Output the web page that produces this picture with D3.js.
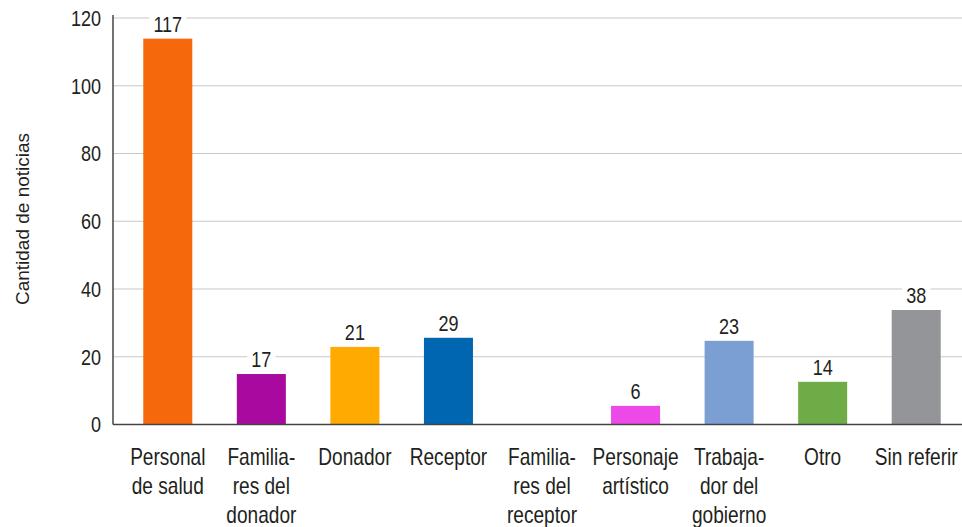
<!DOCTYPE html>
<html lang="es">
<head>
<meta charset="UTF-8">
<title>Cantidad de noticias</title>
<script src="https://d3js.org/d3.v7.min.js"></script>
<style>
  body { margin: 0; background: #fff; }
  svg { display: block; }
  .cond { font-family: "Liberation Sans", Arial, sans-serif; font-size: 22px; fill: #231f20; }
  .cat { font-size: 23px; }
</style>
</head>
<body>
<svg id="chart" width="962" height="527"></svg>
<script>
// categories, one entry per line of the wrapped label
const categories = [
  ["Personal", "de salud"],
  ["Familia-", "res del", "donador"],
  ["Donador"],
  ["Receptor"],
  ["Familia-", "res del", "receptor"],
  ["Personaje", "artístico"],
  ["Trabaja-", "dor del", "gobierno"],
  ["Otro"],
  ["Sin referir"]
];
// printed value labels
const countLabels = [117, 17, 21, 29, null, 6, 23, 14, 38];
// bar heights as drawn in the picture
const barHeights = [113.9, 14.9, 22.9, 25.6, 0, 5.5, 24.7, 12.6, 33.8];
const barColors = ["#f6680c", "#a80aa0", "#ffaa00", "#0066b2", "#ffffff", "#ec49e8", "#7b9fd2", "#6dac46", "#949598"];
const yTicks = [0, 20, 40, 60, 80, 100, 120];

const svg = d3.select("#chart");
const plotLeft = 113, plotRight = 962, plotTop = 18, plotBottom = 424.5;
const squeeze = 0.82; // fake a condensed face

const x = d3.scaleBand()
  .domain(d3.range(categories.length))
  .range([121, 963])
  .paddingInner(0.476)
  .paddingOuter(0.238);

const y = d3.scaleLinear().domain([0, 120]).range([plotBottom, plotTop]);

// gridlines
svg.append("g")
  .selectAll("line")
  .data(yTicks.filter(d => d > 0))
  .join("line")
  .attr("x1", plotLeft).attr("x2", plotRight)
  .attr("y1", d => y(d)).attr("y2", d => y(d))
  .attr("stroke", "#c8c8c8").attr("stroke-width", 1.2);

// y tick labels
svg.append("g")
  .selectAll("g")
  .data(yTicks)
  .join("g")
  .attr("transform", d => `translate(101,${y(d)}) scale(${squeeze},1)`)
  .append("text")
  .attr("class", "cond")
  .attr("text-anchor", "end")
  .attr("dy", "0.36em")
  .text(d => d);

// bars
svg.append("g")
  .selectAll("rect")
  .data(barHeights)
  .join("rect")
  .attr("x", (d, i) => x(i))
  .attr("width", x.bandwidth())
  .attr("y", d => y(d))
  .attr("height", d => y(0) - y(d))
  .attr("fill", (d, i) => barColors[i]);

// axes lines
svg.append("line")
  .attr("x1", plotLeft).attr("x2", plotLeft)
  .attr("y1", 15).attr("y2", plotBottom)
  .attr("stroke", "#444").attr("stroke-width", 1.5);
svg.append("line")
  .attr("x1", plotLeft).attr("x2", plotRight)
  .attr("y1", plotBottom).attr("y2", plotBottom)
  .attr("stroke", "#444").attr("stroke-width", 1.5);

// value labels with white knockout
const vals = svg.append("g")
  .selectAll("g")
  .data(barHeights.map((h, i) => ({ h, i, label: countLabels[i] })).filter(d => d.label !== null))
  .join("g")
  .attr("transform", d => `translate(${x(d.i) + x.bandwidth() / 2},${y(d.h) - 7}) scale(${squeeze},1)`);
vals.append("text")
  .attr("class", "cond")
  .attr("text-anchor", "middle")
  .text(d => d.label);
vals.each(function () {
  const g = d3.select(this);
  const bb = g.select("text").node().getBBox();
  g.insert("rect", "text")
    .attr("x", bb.x - 5).attr("y", bb.y + 3)
    .attr("width", bb.width + 10).attr("height", bb.height - 6)
    .attr("fill", "#fff");
});

// category labels
svg.append("g")
  .selectAll("g")
  .data(categories)
  .join("g")
  .attr("transform", (d, i) => `translate(${x(i) + x.bandwidth() / 2},465) scale(0.83,1)`)
  .append("text")
  .attr("class", "cond cat")
  .attr("text-anchor", "middle")
  .selectAll("tspan")
  .data(d => d)
  .join("tspan")
  .attr("x", 0)
  .attr("y", (d, i) => i * 29)
  .text(d => d);

// y axis title
svg.append("text")
  .attr("transform", "translate(29,219) rotate(-90)")
  .attr("text-anchor", "middle")
  .attr("font-family", "'Liberation Sans', Arial, sans-serif")
  .attr("font-size", 19)
  .attr("fill", "#231f20")
  .text("Cantidad de noticias");
</script>
</body>
</html>
